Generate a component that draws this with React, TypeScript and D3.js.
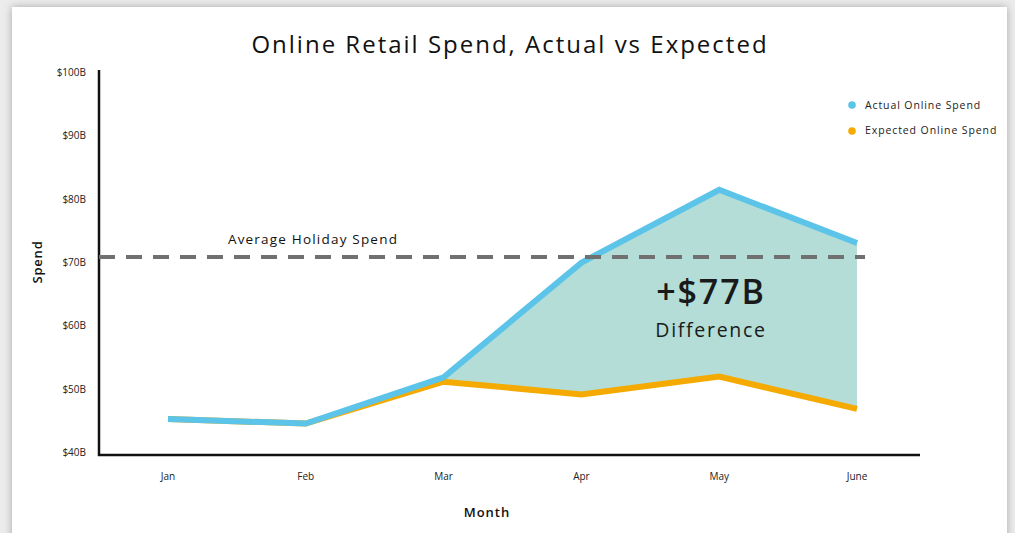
import React from "react";
import * as d3 from "d3";

const months = ["Jan", "Feb", "Mar", "Apr", "May", "June"];
const actual = [45.2, 44.5, 51.8, 69.9, 81.4, 73.0];
const expected = [45.2, 44.5, 51.1, 49.1, 51.9, 46.8];
const yTicks = [40, 50, 60, 70, 80, 90, 100];
const avgHoliday = 70.8;
const fillFrom = 2; // Mar onward

const W = 1015;
const H = 533;

export default function App() {
  const x = d3.scalePoint<string>().domain(months).range([168, 857]);
  const y = d3.scaleLinear().domain([40, 100]).range([452, 72]);

  const rows = months.map((m, i) => ({ m, a: actual[i], e: expected[i] }));
  const lineA = d3.line<any>().x((d) => x(d.m)!).y((d) => y(d.a));
  const lineE = d3.line<any>().x((d) => x(d.m)!).y((d) => y(d.e));
  const area = d3
    .area<any>()
    .x((d) => x(d.m)!)
    .y0((d) => y(d.e))
    .y1((d) => y(d.a));

  const font = "'Open Sans', 'DejaVu Sans', sans-serif";
  const blue = "#5bc4e8";
  const orange = "#f4aa00";

  return (
    <svg
      width={W}
      height={H}
      style={{ position: "absolute", left: 0, top: 0 }}
      fontFamily={font}
    >
      <defs>
        <filter id="sh" x="-5%" y="-5%" width="110%" height="110%">
          <feDropShadow dx="0" dy="0" stdDeviation="4" floodColor="#8a8a8a" floodOpacity="0.7" />
        </filter>
      </defs>
      <rect x={0} y={0} width={W} height={H} fill="#ececec" />
      <rect x={12} y={7} width={995} height={560} fill="#fff" filter="url(#sh)" />

      <text x={510} y={53} textAnchor="middle" fontSize={24} fontWeight={500} letterSpacing={2} fill="#111">
        Online Retail Spend, Actual vs Expected
      </text>

      {/* fill between */}
      <path d={area(rows.slice(fillFrom))!} fill="#b3ddd6" />

      {/* axes */}
      <line x1={99} x2={99} y1={70} y2={456} stroke="#111" strokeWidth={2.5} />
      <line x1={98} x2={920} y1={455} y2={455} stroke="#111" strokeWidth={2.5} />

      {yTicks.map((t) => (
        <text key={t} x={86} y={y(t) + 4} textAnchor="end" fontSize={10} fill="#222">
          {`$${t}B`}
        </text>
      ))}
      {months.map((m) => (
        <text key={m} x={x(m)} y={480} textAnchor="middle" fontSize={10} fill="#222">
          {m}
        </text>
      ))}

      <text
        transform={`translate(42,${262}) rotate(-90)`}
        textAnchor="middle"
        fontSize={13}
        fontWeight={600}
        letterSpacing={0.8}
        fill="#111"
      >
        Spend
      </text>
      <text x={487} y={517} textAnchor="middle" fontSize={13} fontWeight={600} letterSpacing={1} fill="#111">
        Month
      </text>

      {/* lines */}
      <path d={lineE(rows)!} fill="none" stroke={orange} strokeWidth={6} strokeLinejoin="miter" />
      <path d={lineA(rows)!} fill="none" stroke={blue} strokeWidth={6} strokeLinejoin="miter" />

      {/* average holiday */}
      <line
        x1={99}
        x2={865}
        y1={y(avgHoliday)}
        y2={y(avgHoliday)}
        stroke="#707070"
        strokeWidth={4}
        strokeDasharray="16 11"
      />
      <text x={313} y={244} textAnchor="middle" fontSize={13.5} fontWeight={500} letterSpacing={1.2} fill="#111">
        Average Holiday Spend
      </text>

      {/* annotation */}
      <text x={711} y={304} textAnchor="middle" fontSize={34} fontWeight={600} letterSpacing={1.9} fill="#1a1a1a">
        +$77B
      </text>
      <text x={711} y={337} textAnchor="middle" fontSize={19.5} fontWeight={500} letterSpacing={1.7} fill="#1a1a1a">
        Difference
      </text>

      {/* legend */}
      <circle cx={852} cy={105} r={3.8} fill={blue} />
      <text x={865} y={109} fontSize={10.5} letterSpacing={0.9} fill="#222">
        Actual Online Spend
      </text>
      <circle cx={852} cy={131} r={3.8} fill={orange} />
      <text x={865} y={134} fontSize={10.5} letterSpacing={0.9} fill="#222">
        Expected Online Spend
      </text>
    </svg>
  );
}
